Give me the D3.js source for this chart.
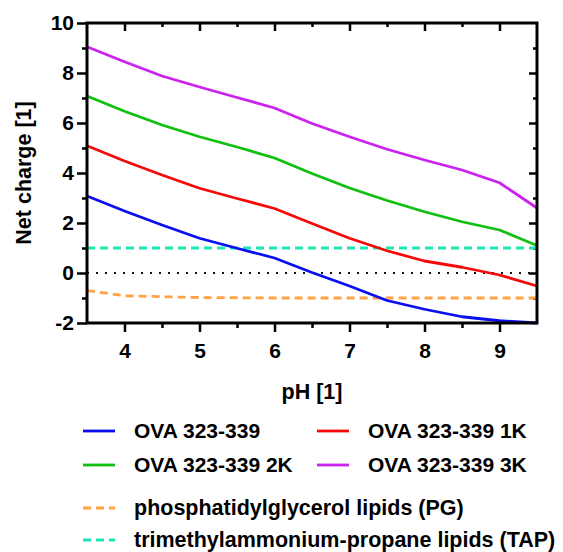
<!DOCTYPE html>
<html>
<head>
<meta charset="utf-8">
<script src="https://cdn.jsdelivr.net/npm/d3@7"></script>
<style>
  body { margin: 0; background: #fff; }
  svg text { font-family: "Liberation Sans", Arial, sans-serif; font-weight: bold; fill: #000; }
</style>
</head>
<body>
<svg id="chart"></svg>
<script>
// pH values, every half unit
const phValues = [3.5, 4, 4.5, 5, 5.5, 6, 6.5, 7, 7.5, 8, 8.5, 9, 9.5];

// net charge of each peptide
const ova0K = [3.08, 2.48, 1.92, 1.39, 0.99, 0.6, 0.02, -0.52, -1.1, -1.45, -1.75, -1.91, -2.0];
const ova1K = [5.09, 4.48, 3.92, 3.39, 2.98, 2.58, 1.98, 1.39, 0.89, 0.48, 0.23, -0.08, -0.52];
const ova2K = [7.08, 6.47, 5.92, 5.45, 5.04, 4.6, 3.98, 3.4, 2.9, 2.45, 2.05, 1.72, 1.1];
const ova3K = [9.05, 8.45, 7.88, 7.44, 7.02, 6.6, 5.98, 5.45, 4.95, 4.52, 4.12, 3.61, 2.6];

// lipid reference lines
const pgCharge = [-0.7, -0.91, -0.95, -0.98, -0.99, -1.0, -1.0, -1.0, -1.0, -1.0, -1.0, -1.0, -1.0];
const tapCharge = [1, 1, 1, 1, 1, 1, 1, 1, 1, 1, 1, 1, 1];

const xTicks = [4, 5, 6, 7, 8, 9];
const yTicks = [-2, 0, 2, 4, 6, 8, 10];

const peptides = [
  {name: "OVA 323-339", values: ova0K, color: "#0a0ff0"},
  {name: "OVA 323-339 1K", values: ova1K, color: "#f50a0a"},
  {name: "OVA 323-339 2K", values: ova2K, color: "#10c010"},
  {name: "OVA 323-339 3K", values: ova3K, color: "#cc22ee"}
];
const lipids = [
  {name: "phosphatidylglycerol lipids (PG)", values: pgCharge, color: "#ffa345"},
  {name: "trimethylammonium-propane lipids (TAP)", values: tapCharge, color: "#19e8b4"}
];

const width = 563, height = 552;
const margin = {top: 23, right: 26, bottom: 229, left: 87};
const w = width - margin.left - margin.right;
const h = height - margin.top - margin.bottom;

const svg = d3.select("#chart").attr("width", width).attr("height", height);
const g = svg.append("g").attr("transform", `translate(${margin.left},${margin.top})`);

const x = d3.scaleLinear().domain([3.5, 9.5]).range([0, w]);
const y = d3.scaleLinear().domain([-2, 10]).range([h, 0]);

const minorX = d3.range(4.5, 9.5, 1);
const minorY = d3.range(-1, 10, 2);

// plain hyphen for negatives, like the original
const fmt = d => String(d);

function styleAxis(sel) {
  sel.select(".domain").remove();
  sel.selectAll(".tick line").attr("stroke", "#000").attr("stroke-width", 2.5);
  sel.selectAll(".tick text").style("font-size", "21px");
}

// bottom axis, major + minor ticks
g.append("g").attr("transform", `translate(0,${h})`)
  .call(d3.axisBottom(x).tickValues(xTicks).tickSize(9).tickPadding(11).tickFormat(fmt))
  .call(styleAxis);
g.append("g").attr("transform", `translate(0,${h})`)
  .call(d3.axisBottom(x).tickValues(minorX).tickSize(5).tickFormat(""))
  .call(styleAxis);

// left axis
g.append("g")
  .call(d3.axisLeft(y).tickValues(yTicks).tickSize(10).tickPadding(3).tickFormat(fmt))
  .call(styleAxis);
g.append("g")
  .call(d3.axisLeft(y).tickValues(minorY).tickSize(5).tickFormat(""))
  .call(styleAxis);

// top and right frame with inward ticks
g.append("g")
  .call(d3.axisTop(x).tickValues(xTicks).tickSize(-8).tickFormat(""))
  .call(styleAxis);
g.append("g")
  .call(d3.axisTop(x).tickValues(minorX).tickSize(-4).tickFormat(""))
  .call(styleAxis);
g.append("g").attr("transform", `translate(${w},0)`)
  .call(d3.axisRight(y).tickValues(yTicks.slice(1, -1)).tickSize(-8).tickFormat(""))
  .call(styleAxis);
g.append("g").attr("transform", `translate(${w},0)`)
  .call(d3.axisRight(y).tickValues(minorY).tickSize(-4).tickFormat(""))
  .call(styleAxis);

// zero line, dotted
g.append("line")
  .attr("x1", x(3.5)).attr("x2", x(9.5))
  .attr("y1", y(0)).attr("y2", y(0))
  .attr("stroke", "#111").attr("stroke-width", 2.2)
  .attr("stroke-dasharray", "2,7");

const line = d3.line()
  .x((d, i) => x(phValues[i]))
  .y(d => y(d));

lipids.forEach(s => {
  g.append("path")
    .attr("d", line(s.values))
    .attr("fill", "none")
    .attr("stroke", s.color)
    .attr("stroke-width", 2.8)
    .attr("stroke-dasharray", "8,5");
});

peptides.forEach(s => {
  g.append("path")
    .attr("d", line(s.values))
    .attr("fill", "none")
    .attr("stroke", s.color)
    .attr("stroke-width", 2.8)
    .attr("stroke-linejoin", "round");
});

// frame
g.append("rect")
  .attr("width", w).attr("height", h)
  .attr("fill", "none").attr("stroke", "#000").attr("stroke-width", 3);

// axis titles
svg.append("text")
  .attr("x", margin.left + w / 2).attr("y", 399)
  .attr("text-anchor", "middle")
  .style("font-size", "21.5px")
  .text("pH [1]");
svg.append("text")
  .attr("transform", `translate(31,${margin.top + h / 2}) rotate(-90)`)
  .attr("text-anchor", "middle")
  .style("font-size", "21.5px")
  .text("Net charge [1]");

// legend
const legend = svg.append("g");
const legendPos = [[83, 431], [317, 431], [83, 465], [317, 465]];
peptides.forEach((s, i) => {
  const [lx, ly] = legendPos[i];
  legend.append("line")
    .attr("x1", lx).attr("x2", lx + 32).attr("y1", ly).attr("y2", ly)
    .attr("stroke", s.color).attr("stroke-width", 2.8);
  legend.append("text")
    .attr("x", lx + 51).attr("y", ly + 7)
    .style("font-size", "21px")
    .text(s.name);
});
lipids.forEach((s, i) => {
  const ly = 508 + i * 32;
  legend.append("line")
    .attr("x1", 83).attr("x2", 115).attr("y1", ly).attr("y2", ly)
    .attr("stroke", s.color).attr("stroke-width", 2.8)
    .attr("stroke-dasharray", "8,5");
  legend.append("text")
    .attr("x", 134).attr("y", ly + 7)
    .style("font-size", "21.5px")
    .text(s.name);
});
</script>
</body>
</html>
